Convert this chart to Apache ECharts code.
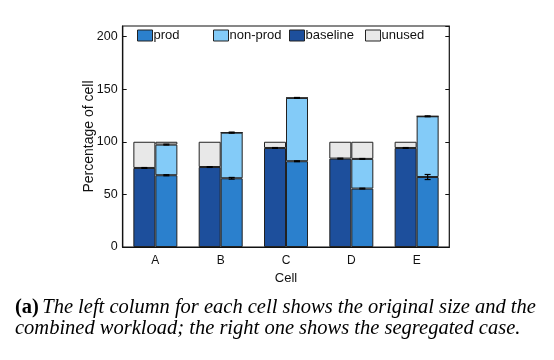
<!DOCTYPE html>
<html><head><meta charset="utf-8">
<script src="https://cdn.jsdelivr.net/npm/echarts@6/dist/echarts.min.js"></script>
<style>html,body{margin:0;padding:0;background:#fff}#c{width:554px;height:360px}</style>
</head><body><div id="c"></div>
<script>
const categories = ['A','B','C','D','E'];
const baseline = [75.1, 76.0, 94.1, 84.0, 94.1];
const prod = [68.2, 65.3, 81.5, 55.5, 66.5];
const nonprod = [29.1, 43.4, 60.2, 28.2, 57.7];
const baselineErr = [0.4, 0.4, 0.4, 0.4, 0.4];
const prodErr = [0.5, 0.8, 0.4, 0.4, 2.4];
const nonprodErr = [0.4, 0.5, 0.4, 0.4, 0.4];
const yTicks = [0, 50, 100, 150, 200];
const unusedL = baseline.map(v => Math.max(0, 100 - v));
const unusedR = prod.map((v, i) => Math.max(0, 100 - v - nonprod[i]));

const C = {baseline:'#1d4f9c', prod:'#2b80cd', nonprod:'#83cbf8', unused:'#e8e8e8'};
const BW = 22;
const font = 'Liberation Sans, Arial, sans-serif';

const errData = [];
categories.forEach((c, i) => {
  errData.push([i, baseline[i], baselineErr[i], -1]);
  errData.push([i, prod[i], prodErr[i], 1]);
  errData.push([i, prod[i] + nonprod[i], nonprodErr[i], 1]);
});

const chart = echarts.init(document.getElementById('c'));
const border = {borderColor:'#222', borderWidth:1};
function legend(name, left){
  return {data:[{name:name, icon:'rect'}], left:left, top:29, itemWidth:15, itemHeight:11, itemGap:0,
    selectedMode:false, padding:0,
    itemStyle:{borderColor:'#222', borderWidth:1},
    textStyle:{fontFamily:font, fontSize:13, color:'#111', padding:[0,0,0,-4]}};
}
chart.setOption({
  animation:false,
  legend:[legend('prod',137), legend('non-prod',213), legend('baseline',289), legend('unused',365)],
  grid:{left:122.7, right:104.7, top:26, bottom:113, show:true, borderColor:'#111', borderWidth:1.2, backgroundColor:'transparent'},
  xAxis:[{type:'category', data:categories, name:'Cell', nameLocation:'middle', nameGap:24,
      nameTextStyle:{fontFamily:font, fontSize:13, color:'#111'},
      axisLine:{lineStyle:{color:'#111', width:1.2}},
      axisTick:{alignWithLabel:true, inside:true, length:4, lineStyle:{color:'#111'}},
      axisLabel:{fontFamily:font, fontSize:12, color:'#111', margin:8}},
    {type:'category', data:categories, position:'top',
      axisLine:{show:false}, axisTick:{alignWithLabel:true, inside:true, length:4, lineStyle:{color:'#111'}},
      axisLabel:{show:false}}],
  yAxis:[{type:'value', min:0, max:210, interval:50, name:'Percentage of cell', nameLocation:'middle', nameGap:26.5,
      nameMoveOverlap:false,
      nameTextStyle:{fontFamily:font, fontSize:14, color:'#111'},
      axisLine:{show:true, lineStyle:{color:'#111', width:1.2}},
      axisTick:{show:true, inside:true, length:4, lineStyle:{color:'#111'}},
      splitLine:{show:false},
      axisLabel:{fontFamily:font, fontSize:12.5, color:'#111', margin:5, showMaxLabel:false,
        formatter:v => yTicks.indexOf(v) >= 0 ? String(v) : ''}},
    {type:'value', min:0, max:210, interval:50, position:'right',
      axisLine:{show:false}, axisTick:{show:true, inside:true, length:4, lineStyle:{color:'#111'}},
      splitLine:{show:false}, axisLabel:{show:false}}],
  series:[
    {name:'baseline', type:'bar', stack:'L', data:baseline, barWidth:BW, barGap:'0%', itemStyle:Object.assign({color:C.baseline}, border)},
    {name:'unused', type:'bar', stack:'L', data:unusedL, barWidth:BW, itemStyle:Object.assign({color:C.unused}, border)},
    {name:'prod', type:'bar', stack:'R', data:prod, barWidth:BW, barGap:'0%', itemStyle:Object.assign({color:C.prod}, border)},
    {name:'non-prod', type:'bar', stack:'R', data:nonprod, barWidth:BW, itemStyle:Object.assign({color:C.nonprod}, border)},
    {name:'unused', type:'bar', stack:'R', data:unusedR, barWidth:BW, itemStyle:Object.assign({color:C.unused}, border)},
    {type:'custom', data:errData, z:10, renderItem:function(params, api){
      const i = api.value(0), v = api.value(1), e = api.value(2), side = api.value(3);
      const p = api.coord([i, v]);
      const x = p[0] + side * BW / 2;
      const y1 = api.coord([i, v + e])[1], y2 = api.coord([i, v - e])[1];
      const st = {stroke:'#000', lineWidth:1.2};
      return {type:'group', children:[
        {type:'line', shape:{x1:x, y1:y1, x2:x, y2:y2}, style:st},
        {type:'line', shape:{x1:x-3, y1:y1, x2:x+3, y2:y1}, style:st},
        {type:'line', shape:{x1:x-3, y1:y2, x2:x+3, y2:y2}, style:st}]};
    }}
  ],
  graphic:[
    {type:'text', left:15, top:297, style:{rich:{b:{fontFamily:'Liberation Serif, serif', fontWeight:'bold', fontSize:20.5, fill:'#000'},
      i:{fontFamily:'Liberation Serif, serif', fontStyle:'italic', fontSize:20.5, fill:'#000'}},
      text:'{b|(a)} {i|The left column for each cell shows the original size and the}'}},
    {type:'text', left:15, top:319, style:{fontFamily:'Liberation Serif, serif', fontStyle:'italic', fontSize:20.5, fill:'#000',
      text:'combined workload; the right one shows the segregated case.'}}
  ]
});
</script></body></html>
